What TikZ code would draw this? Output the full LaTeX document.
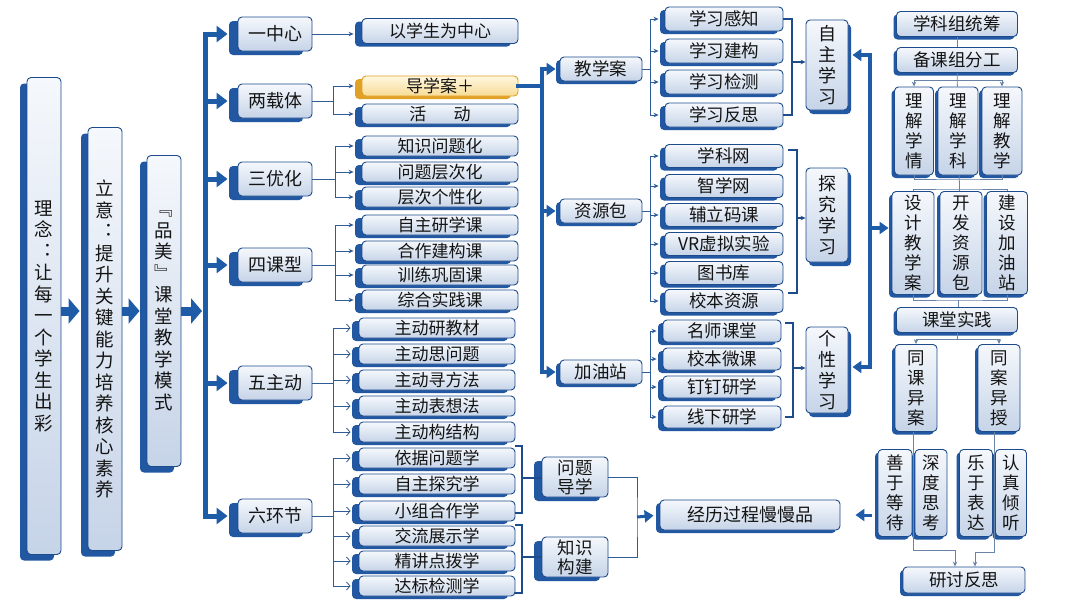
\documentclass[tikz,border=0pt]{standalone}
\usepackage{fontspec}
\setmainfont{Noto Sans CJK SC}
\usetikzlibrary{positioning, arrows.meta, shadows}
\definecolor{boxline}{HTML}{1E4B8C}
\definecolor{boxshade}{HTML}{2257A2}
\definecolor{boxtop}{HTML}{F5F8FC}
\definecolor{boxbot}{HTML}{C6D4E8}
\definecolor{linkc}{HTML}{2F5B97}
\definecolor{fatc}{HTML}{1F5CA8}
\definecolor{greyc}{HTML}{6A84A8}
\definecolor{goldline}{HTML}{E0A126}
\definecolor{goldtop}{HTML}{FFF7DF}
\definecolor{goldbot}{HTML}{F8DC96}
\definecolor{textc}{HTML}{141414}
\tikzset{
	shadowed/.style 2 args={
		drop shadow={shadow xshift=#1, shadow yshift=#2, fill=boxshade, opacity=1}
	},
	card/.style={
		draw=boxline,
		line width=0.9pt,
		rounded corners=4pt,
		top color=boxtop,
		bottom color=boxbot,
		inner sep=0pt,
		text=textc,
		align=center,
		font=\fontsize{16}{20}\selectfont
	},
	bigcard/.style={
		card, shadowed={-7pt}{-6pt},
		minimum width=34pt,
		font=\fontsize{18.5}{21.5}\selectfont
	},
	headcard/.style={
		card, shadowed={-9pt}{-4pt},
		minimum width=74pt, minimum height=34pt,
		font=\fontsize{18}{20}\selectfont
	},
	itemcard/.style={
		card, shadowed={-7pt}{-3pt},
		minimum width=156pt, minimum height=20pt,
		font=\fontsize{17}{18}\selectfont
	},
	goldcard/.style={
		card, draw=goldline, top color=goldtop, bottom color=goldbot,
		drop shadow={shadow xshift=-7pt, shadow yshift=-3pt, fill=goldline, opacity=1},
		minimum width=156pt, minimum height=20pt,
		font=\fontsize{17}{18}\selectfont
	},
	subcard/.style={
		card, shadowed={-4pt}{-3pt},
		minimum width=82pt, minimum height=24pt,
		font=\fontsize{17.5}{20}\selectfont
	},
	leafcard/.style={
		card, shadowed={-5pt}{-3pt},
		minimum width=118pt, minimum height=23pt,
		font=\fontsize{17.5}{20}\selectfont
	},
	modecard/.style={
		card, shadowed={3pt}{-4pt},
		minimum width=42pt,
		font=\fontsize{18}{21}\selectfont
	},
	stepcard/.style={
		card, shadowed={-8pt}{-4pt},
		minimum width=66pt, minimum height=40pt,
		font=\fontsize{17.5}{19}\selectfont
	},
	sidecard/.style={
		card, shadowed={-3pt}{-3pt},
		font=\fontsize{17.5}{20}\selectfont
	},
	link/.style={draw=linkc, line width=0.8pt},
	smallarrow/.style={link, -{Stealth[length=5pt, width=4.5pt]}},
	openarrow/.style={link, -{Straight Barb[length=3.5pt, width=8pt]}},
	bracket/.style={draw=boxline, line width=1.3pt},
	greyline/.style={draw=greyc, line width=0.8pt},
	greyarrow/.style={greyline, -{Stealth[length=5pt, width=4.5pt]}},
	fat/.style={draw=fatc, line width=5pt, line cap=rect},
	fatarrow/.style={draw=fatc, line width=5pt, -{Triangle[width=16pt, length=11pt]}},
	bigarrow/.style={draw=fatc, line width=9pt, -{Triangle[width=25pt, length=11pt]}},
	midline/.style={draw=fatc, line width=4pt, line cap=rect},
	midarrow/.style={draw=fatc, line width=4pt, -{Triangle[width=12pt, length=9pt]}}
}

\begin{document}
\begin{tikzpicture}[x=1pt, y=-1pt]
\fill[white] (0,0) rectangle (1080,608);
\useasboundingbox (0,0) rectangle (1080,608);

% left column
\node(lin)[bigcard, minimum height=477pt] at (44,316){理\\念\\︓\\让\\每\\一\\个\\学\\生\\出\\彩};
\node(liyi)[bigcard, minimum height=423pt] at (105,339){立\\意\\︓\\提\\升\\关\\键\\能\\力\\培\\养\\核\\心\\素\\养};
\node(pm)[bigcard, minimum height=311pt] at (164,311){﹃\\品\\美\\﹄\\课\\堂\\教\\学\\模\\式};

\draw[bigarrow, shorten >=8pt] (lin.east |- pm) -- (liyi.west |- pm);
\draw[bigarrow, shorten >=7pt] (liyi.east |- pm) -- (pm.west);

% six branches
\node(c1)[headcard] at (275,34){一中心};
\node(c2)[headcard] at (275,101){两载体};
\node(c3)[headcard] at (275,179){三优化};
\node(c4)[headcard] at (275,265){四课型};
\node(c5)[headcard] at (275,383){五主动};
\node(c6)[headcard] at (275,516){六环节};

\coordinate (tk1) at (205,34);
\coordinate (tk6) at (205,516);
\draw[fat] (tk1) -- (tk6);
\draw[bigarrow, shorten >=3pt] (pm.east) -- (pm.east -| tk1);
\foreach \n in {c1,c2,c3,c4,c5,c6}
	\draw[fatarrow, shorten >=10pt] (tk1 |- \n) -- (\n.west);

% items
\node(i0)[itemcard, minimum height=25pt] at (440,31){以学生为中心};
\node(dxa)[goldcard] at (440,86){导学案＋};
\node(hd)[itemcard] at (440,114){活\hspace{1.6em}动};
\node(p1)[itemcard] at (440,146){知识问题化};
\node(p2)[itemcard] at (440,172){问题层次化};
\node(p3)[itemcard] at (440,197){层次个性化};
\node(k1)[itemcard] at (440,225){自主研学课};
\node(k2)[itemcard] at (440,251){合作建构课};
\node(k3)[itemcard] at (440,275){训练巩固课};
\node(k4)[itemcard] at (440,300){综合实践课};
\node(z1)[itemcard] at (437,328){主动研教材};
\node(z2)[itemcard] at (437,354){主动思问题};
\node(z3)[itemcard] at (437,380){主动寻方法};
\node(z4)[itemcard] at (437,406){主动表想法};
\node(z5)[itemcard] at (437,432){主动构结构};
\node(h1)[itemcard] at (437,458){依据问题学};
\node(h2)[itemcard] at (437,484){自主探究学};
\node(h3)[itemcard] at (437,511){小组合作学};
\node(h4)[itemcard] at (437,536){交流展示学};
\node(h5)[itemcard] at (437,561){精讲点拨学};
\node(h6)[itemcard] at (437,586){达标检测学};

\draw[smallarrow, shorten >=8pt] (c1.east) -- (c1.east -| i0.west);
\coordinate (f2) at ([xshift=21pt]c2.east);
\coordinate (f3) at ([xshift=23pt]c3.east);
\coordinate (f4) at ([xshift=23pt]c4.east);
\coordinate (f5) at ([xshift=21pt]c5.east);
\coordinate (f6) at ([xshift=21pt]c6.east);
\draw[link] (c2.east) -- (f2);
\draw[link] (c3.east) -- (f3);
\draw[link] (c4.east) -- (f4);
\draw[link] (c5.east) -- (f5);
\draw[link] (c6.east) -- (f6);
\foreach \n in {dxa,hd}
	\draw[smallarrow, shorten >=8pt] (f2) |- (\n.west);
\foreach \n in {p1,p2,p3}
	\draw[smallarrow, shorten >=8pt] (f3) |- (\n.west);
\foreach \n in {k1,k2,k3,k4}
	\draw[smallarrow, shorten >=8pt] (f4) |- (\n.west);
\foreach \n in {z1,z2,z3,z4,z5}
	\draw[openarrow, shorten >=8pt] (f5) |- (\n.west);
\foreach \n in {h1,h2,h3,h4,h5,h6}
	\draw[openarrow, shorten >=8pt] (f6) |- (\n.west);

% carriers
\node(ja)[subcard] at (601,69){教学案};
\node(zy)[subcard] at (601,211){资源包};
\node(jy)[subcard] at (601,372){加油站};

\coordinate (m1) at (542,69);
\coordinate (m3) at (542,372);
\draw[midline] (m1) -- (m3);
\draw[midline] (dxa.east) -- (dxa.east -| m1);
\foreach \n in {ja,zy,jy}
	\draw[midarrow, shorten >=4pt] (m1 |- \n) -- (\n.west);

\node(e1)[leafcard, minimum height=24pt] at (724,19){学习感知};
\node(e2)[leafcard, minimum height=24pt] at (724,51){学习建构};
\node(e3)[leafcard, minimum height=24pt] at (724,82){学习检测};
\node(e4)[leafcard, minimum height=24pt] at (724,115){学习反思};
\node(r1)[leafcard] at (724,156){学科网};
\node(r2)[leafcard] at (724,186){智学网};
\node(r3)[leafcard] at (724,215){辅立码课};
\node(r4)[leafcard] at (724,244){VR虚拟实验};
\node(r5)[leafcard] at (724,273){图书库};
\node(r6)[leafcard] at (724,301){校本资源};
\node(g1)[leafcard, minimum height=22pt] at (722,331){名师课堂};
\node(g2)[leafcard, minimum height=22pt] at (722,359){校本微课};
\node(g3)[leafcard, minimum height=22pt] at (722,387){钉钉研学};
\node(g4)[leafcard, minimum height=22pt] at (722,417){线下研学};

\coordinate (fj) at ([xshift=8pt]ja.east);
\coordinate (fz) at ([xshift=8pt]zy.east);
\coordinate (fy) at ([xshift=8pt]jy.east);
\draw[link] (ja.east) -- (fj);
\draw[link] (zy.east) -- (fz);
\draw[link] (jy.east) -- (fy);
\foreach \n in {e1,e2,e3,e4}
	\draw[smallarrow, shorten >=6pt] (fj) |- (\n.west);
\foreach \n in {r1,r2,r3,r4,r5,r6}
	\draw[smallarrow, shorten >=6pt] (fz) |- (\n.west);
\foreach \n in {g1,g2,g3,g4}
	\draw[smallarrow, shorten >=6pt] (fy) |- (\n.west);

% three ways of learning
\node(zz)[modecard, minimum height=90pt] at (827,65){自\\主\\学\\习};
\node(tj)[modecard, minimum height=94pt] at (827,215){探\\究\\学\\习};
\node(gx)[modecard, minimum height=86pt] at (827,370){个\\性\\学\\习};

\coordinate (bj) at (792,62);
\draw[bracket] (e1.east) -- (e1.east -| bj) -- (e4.east -| bj) -- (e4.east);
\draw[smallarrow, line width=1.3pt, draw=boxline] (bj) -- (bj -| zz.west);
\coordinate (brt) at (788,150);
\coordinate (br) at (797,218);
\coordinate (brb) at (788,293);
\draw[bracket] (brt) -| (br) |- (brb);
\draw[smallarrow, line width=1.3pt, draw=boxline] (br) -- (br -| tj.west);
\coordinate (bgt) at (785,323);
\coordinate (bg) at (793,368);
\coordinate (bgb) at (785,417);
\draw[bracket] (bgt) -| (bg) |- (bgb);
\draw[smallarrow, line width=1.3pt, draw=boxline] (bg) -- (bg -| gx.west);

% right column
\node(t1)[sidecard, minimum width=121pt, minimum height=25pt] at (957,24){学科组统筹};
\node(t2)[sidecard, minimum width=121pt, minimum height=25pt] at (957,60){备课组分工};
\node(l1)[sidecard, minimum width=39pt, minimum height=88pt] at (914,131){理\\解\\学\\情};
\node(l2)[sidecard, minimum width=40pt, minimum height=88pt] at (958,131){理\\解\\学\\科};
\node(l3)[sidecard, minimum width=40pt, minimum height=88pt] at (1002,131){理\\解\\教\\学};
\node(s1)[sidecard, minimum width=42pt, minimum height=103pt] at (913,243){设\\计\\教\\学\\案};
\node(s2)[sidecard, minimum width=42pt, minimum height=103pt] at (961,243){开\\发\\资\\源\\包};
\node(s3)[sidecard, minimum width=41pt, minimum height=103pt] at (1007,243){建\\设\\加\\油\\站};
\node(kt)[sidecard, minimum width=121pt, minimum height=25pt] at (957,320){课堂实践};
\node(tk)[sidecard, minimum width=42pt, minimum height=87pt] at (916,388){同\\课\\异\\案};
\node(ts)[sidecard, minimum width=42pt, minimum height=87pt] at (999,388){同\\案\\异\\授};
\node(sy)[sidecard, minimum width=34pt, minimum height=87pt] at (895,493){善\\于\\等\\待};
\node(sd)[sidecard, minimum width=32pt, minimum height=87pt] at (931,493){深\\度\\思\\考};
\node(ly)[sidecard, minimum width=33pt, minimum height=87pt] at (976,493){乐\\于\\表\\达};
\node(rz)[sidecard, minimum width=31pt, minimum height=87pt] at (1011,493){认\\真\\倾\\听};
\node(yt)[sidecard, minimum width=122pt, minimum height=26pt] at (964,580){研讨反思};

\draw[greyline] (t1) -- (t2);
\draw[greyline] (t2) -- (l2);
\coordinate (lt) at (958,80);
\draw[greyarrow] (lt) -| (l1.north);
\draw[greyarrow] (lt) -| (l3.north);
\coordinate (lj) at (958,179);
\draw[greyline] (l1.south) |- (lj) -| (l3.south);
\draw[greyline] (l2) -- (s2);
\coordinate (sj) at (958,189);
\draw[greyline] (s1.north) |- (sj) -| (s3.north);
\coordinate (sb) at (958,300);
\draw[greyline] (s1.south) |- (sb) -| (s3.south);
\draw[greyline] (sb) -- (kt.north -| sb);
\coordinate (kb) at (957,339);
\draw[greyline] (kt.south) -- (kb);
\draw[greyarrow] (kb) -| (tk.north);
\draw[greyarrow] (kb) -| (ts.north);
\coordinate (gp1) at (913.5,550);
\coordinate (gp2) at (994.5,552);
\draw[greyarrow] (tk.south -| gp1) -- (gp1) -| ([xshift=-9pt]yt.north);
\draw[greyarrow] (ts.south -| gp2) -- (gp2) -| ([xshift=11pt]yt.north);

\coordinate (rt) at (870,55);
\coordinate (rm) at (870,228);
\coordinate (rb) at (870,367);
\draw[midline] (rt) -- (rb);
\draw[midarrow, shorten >=4pt] (rt) -- (rt -| zz.east);
\draw[midarrow, shorten >=4pt] (rb) -- (rb -| gx.east);
\draw[midarrow, shorten >=3pt] (rm) -- (rm -| s1.west);

% six links
\node(wt)[stepcard] at (575,477){问题\\导学};
\node(zs)[stepcard] at (575,557){知识\\构建};
\node(jl)[card, shadowed={-4pt}{-3pt}, minimum width=180pt, minimum height=30pt, font=\fontsize{18}{20}\selectfont] at (750,515){经历过程慢慢品};

\coordinate (bwt) at (515,446);
\coordinate (bw) at (522,478);
\coordinate (bwb) at (515,513);
\draw[bracket] (bwt) -| (bw) |- (bwb);
\draw[bracket] (bw) -- (bw -| wt.west);
\coordinate (bzt) at (515,525);
\coordinate (bz) at (522,557);
\coordinate (bzb) at (515,593);
\draw[bracket] (bzt) -| (bz) |- (bzb);
\draw[bracket] (bz) -- (bz -| zs.west);

\coordinate (mg) at (637,517);
\draw[link] (wt.east) -| (mg) |- (zs.east);
\draw[midarrow, line width=3pt, shorten >=6pt] (mg) -- (jl.west);
\draw[midarrow, line width=3pt, shorten <=6pt, shorten >=15pt] (sy.west |- jl) -- (jl.east);

\end{tikzpicture}
\end{document}
